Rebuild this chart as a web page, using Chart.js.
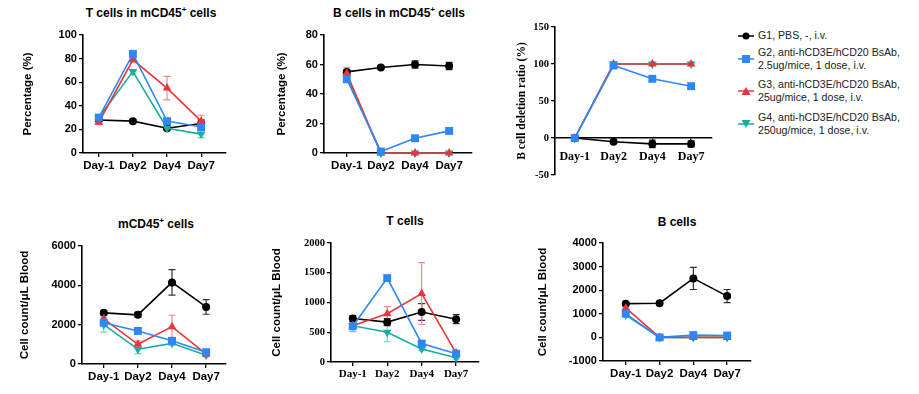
<!DOCTYPE html>
<html>
<head>
<meta charset="utf-8">
<script src="https://cdn.jsdelivr.net/npm/chart.js@4"></script>
<style>
body { margin: 0; background: #fff; width: 919px; height: 394px; position: relative; overflow: hidden; font-family: Arial, "Liberation Sans", sans-serif; }
canvas { position: absolute; }
.ttl { position: absolute; width: 200px; text-align: center; font-weight: bold; font-size: 12px; line-height: 16px; color: #000; }
.ttl sup { font-size: 8px; line-height: 0; }
.item { position: absolute; left: 737px; padding-left: 21px; font-size: 10.6px; line-height: 13px; color: #222; white-space: nowrap; }
.item svg { position: absolute; left: 0; top: 50%; margin-top: -6px; }
</style>
</head>
<body>
<div class="ttl" style="left:51px;top:5px">T cells in mCD45<sup>+</sup> cells</div>
<div class="ttl" style="left:299px;top:5px">B cells in mCD45<sup>+</sup> cells</div>
<div class="ttl" style="left:56px;top:216px">mCD45<sup>+</sup> cells</div>
<div class="ttl" style="left:305px;top:213px">T cells</div>
<div class="ttl" style="left:577px;top:214px">B cells</div>

<canvas id="p1"></canvas>
<canvas id="p2"></canvas>
<canvas id="p3"></canvas>
<canvas id="p4"></canvas>
<canvas id="p5"></canvas>
<canvas id="p6"></canvas>

<div class="item" style="top:29px">
  <svg width="18" height="12"><line x1="1" y1="6" x2="17" y2="6" stroke="#000" stroke-width="1.5"/><circle cx="9" cy="6" r="3.5" fill="#000"/></svg>
  G1, PBS, -, i.v.</div>
<div class="item" style="top:46px">
  <svg width="18" height="12"><line x1="1" y1="6" x2="17" y2="6" stroke="#2f86f6" stroke-width="1.5"/><rect x="5" y="2" width="8" height="8" fill="#2f86f6"/></svg>
  G2, anti-hCD3E/hCD20 BsAb,<br>2.5ug/mice, 1 dose, i.v.</div>
<div class="item" style="top:78px">
  <svg width="18" height="12"><line x1="1" y1="6" x2="17" y2="6" stroke="#e8353b" stroke-width="1.5"/><polygon points="9,2 13.5,10 4.5,10" fill="#e8353b"/></svg>
  G3, anti-hCD3E/hCD20 BsAb,<br>25ug/mice, 1 dose, i.v.</div>
<div class="item" style="top:111px">
  <svg width="18" height="12"><line x1="1" y1="6" x2="17" y2="6" stroke="#17ae9e" stroke-width="1.5"/><polygon points="9,10 13.5,2 4.5,2" fill="#17ae9e"/></svg>
  G4, anti-hCD3E/hCD20 BsAb,<br>250ug/mice, 1 dose, i.v.</div>

<script>
// categories and groups
const days = ['Day-1', 'Day2', 'Day4', 'Day7'];
const groups = ['G1', 'G2', 'G3', 'G4'];

// rows = G1..G4, columns = days; *Err = half height of the error bar
const tPctMean = [[28, 27, 21, 25], [30, 84, 27, 22], [26, 79, 55, 27], [30, 69, 21, 16]];
const tPctErr  = [[1, 1, 1, 3], [1.5, 1.5, 1.5, 2], [1.5, 1.5, 10, 5], [1.5, 1.5, 1.5, 3]];

const bPctMean = [[55, 58, 60, 59], [50, 1, 10, 15], [54, 0, 0, 0], [52, 0, 0, 0]];
const bPctErr  = [[1.5, 1, 2.5, 2.5], [2, 0.5, 1, 2], [4, 0, 0, 0], [1, 0, 0, 0]];

const ratioMean = [[0, -5, -8, -8], [0, 98, 80, 70], [0, 100, 100, 100], [0, 100, 100, 100]];
const ratioErr  = [[3, 2, 5, 4], [2, 2, 3, 4], [0, 1, 2, 2], [0, 1, 2, 2]];

const cdMean = [[2600, 2500, 4150, 2900], [2100, 1680, 1180, 600], [2300, 1000, 1900, 500], [2000, 750, 1050, 450]];
const cdErr  = [[100, 120, 650, 370], [150, 80, 120, 100], [200, 180, 580, 80], [380, 220, 100, 80]];

const tCntMean = [[730, 670, 840, 720], [600, 1410, 310, 140], [610, 810, 1150, 150], [610, 500, 220, 70]];
const tCntErr  = [[50, 60, 140, 75], [90, 30, 40, 30], [40, 120, 520, 30], [30, 160, 30, 20]];

const bCntMean = [[1430, 1450, 2500, 1750], [1000, 0, 100, 80], [1250, 0, 0, 0], [950, 0, 0, 0]];
const bCntErr  = [[60, 60, 470, 280], [80, 20, 50, 40], [60, 0, 0, 0], [60, 0, 0, 0]];

// styles per group
const colors = ['#000000', '#2f86f6', '#e8353b', '#17ae9e'];
const errColors = ['#333333', '#86b8f8', '#f08a8d', '#76d1c7'];
const pointStyles = ['circle', 'rect', 'triangle', 'triangle'];
const rotations = [0, 0, 0, 180];
const radii = [4, 5.6, 5, 5];
const drawOrder = [3, 0, 1, 2];

const sans = 'Arial, "Liberation Sans", sans-serif';
const serif = '"Times New Roman", "Liberation Serif", serif';

const errorBars = {
  id: 'errorBars',
  beforeDatasetsDraw(chart) {
    const ctx = chart.ctx, xs = chart.scales.x, ys = chart.scales.y;
    ctx.save();
    chart.data.datasets.forEach(ds => {
      ds.errors.forEach((e, i) => {
        if (!e) return;
        const v = ds.data[i].y;
        const x = xs.getPixelForValue(i);
        const top = ys.getPixelForValue(v + e), bot = ys.getPixelForValue(v - e);
        ctx.strokeStyle = ds.errColor;
        ctx.lineWidth = 1.2;
        ctx.beginPath();
        ctx.moveTo(x, top); ctx.lineTo(x, bot);
        ctx.moveTo(x - 3.5, top); ctx.lineTo(x + 3.5, top);
        ctx.moveTo(x - 3.5, bot); ctx.lineTo(x + 3.5, bot);
        ctx.stroke();
      });
    });
    ctx.restore();
  }
};

function panel(id, p) {
  const titleSize = 11.5;
  const padTop = 12, padRight = 24;
  const hx = p.zeroAxis ? 0 : 26, padBottom = p.zeroAxis ? 10 : 0;
  const wy = p.left - p.labelX + titleSize * 0.6;
  const step = (p.lastX - p.firstX) / 3;
  const c = document.getElementById(id);
  c.width = wy + (p.right - p.left) + padRight;
  c.height = padTop + (p.bottom - p.top) + hx + padBottom;
  c.style.left = (p.left - wy) + 'px';
  c.style.top = (p.top - padTop) + 'px';

  const axisGrid = { drawOnChartArea: false, drawTicks: true, tickLength: 4, color: '#000', lineWidth: 1.3 };
  const axisBorder = { display: true, color: '#000', width: 1.6 };

  new Chart(c, {
    type: 'line',
    data: {
      datasets: p.means.map((m, g) => ({
        label: groups[g],
        data: m.map((v, i) => ({ x: i, y: v })),
        errors: p.errs[g],
        errColor: errColors[g],
        borderColor: colors[g],
        backgroundColor: colors[g],
        borderWidth: 1.6,
        pointStyle: pointStyles[g],
        pointRotation: rotations[g],
        pointRadius: radii[g],
        pointBorderWidth: 0,
        order: drawOrder[g],
        clip: false
      }))
    },
    options: {
      responsive: false,
      animation: false,
      layout: { padding: { top: padTop, right: padRight, bottom: padBottom, left: 0 } },
      plugins: { legend: { display: false }, tooltip: { enabled: false } },
      scales: {
        x: {
          type: 'linear',
          position: p.zeroAxis ? { y: 0 } : 'bottom',
          min: -(p.firstX - p.left) / step,
          max: 3 + (p.right - p.lastX) / step,
          afterBuildTicks: s => { s.ticks = days.map((d, i) => ({ value: i })); },
          afterFit: s => { if (!p.zeroAxis) s.height = hx; },
          ticks: {
            callback: v => days[v],
            font: { family: p.serif ? serif : sans, size: p.xSize, weight: 'bold' },
            color: '#000', padding: p.zeroAxis ? 8 : 2, maxRotation: 0, autoSkip: false
          },
          grid: axisGrid,
          border: axisBorder
        },
        y: {
          min: p.yMin, max: p.yMax,
          afterFit: s => { s.width = wy; },
          ticks: {
            stepSize: p.yStep,
            callback: v => v,
            font: { family: p.serif ? serif : sans, size: p.ySize, weight: 'bold' },
            color: '#000', padding: 2
          },
          grid: axisGrid,
          border: axisBorder,
          title: {
            display: true, text: p.yTitle, color: '#000', padding: 0,
            font: { family: p.serifTitle ? serif : sans, size: titleSize, weight: 'bold' }
          }
        }
      }
    },
    plugins: [errorBars]
  });
}

panel('p1', { left: 83, right: 227, top: 35, bottom: 153, firstX: 99, lastX: 202, labelX: 28,
  yMin: 0, yMax: 100, yStep: 20, yTitle: 'Percentage (%)', xSize: 11.5, ySize: 11,
  means: tPctMean, errs: tPctErr });
panel('p2', { left: 324, right: 473, top: 35, bottom: 153, firstX: 347, lastX: 450, labelX: 282,
  yMin: 0, yMax: 80, yStep: 20, yTitle: 'Percentage (%)', xSize: 11.5, ySize: 11,
  means: bPctMean, errs: bPctErr });
panel('p3', { left: 555, right: 713, top: 27, bottom: 175, firstX: 575, lastX: 692, labelX: 522,
  yMin: -50, yMax: 150, yStep: 50, yTitle: 'B cell deletion ratio (%)', xSize: 12, ySize: 10.5,
  serif: true, serifTitle: true, zeroAxis: true,
  means: ratioMean, errs: ratioErr });
panel('p4', { left: 82, right: 227, top: 246, bottom: 364, firstX: 104, lastX: 207, labelX: 25,
  yMin: 0, yMax: 6000, yStep: 2000, yTitle: 'Cell count/μL Blood', xSize: 11.5, ySize: 11,
  means: cdMean, errs: cdErr });
panel('p5', { left: 331, right: 480, top: 243, bottom: 362, firstX: 353, lastX: 457, labelX: 277,
  yMin: 0, yMax: 2000, yStep: 500, yTitle: 'Cell count/μL Blood', xSize: 11, ySize: 10.5,
  serif: true,
  means: tCntMean, errs: tCntErr });
panel('p6', { left: 603, right: 752, top: 243, bottom: 361, firstX: 626, lastX: 728, labelX: 543,
  yMin: -1000, yMax: 4000, yStep: 1000, yTitle: 'Cell count/μL Blood', xSize: 11.5, ySize: 11,
  means: bCntMean, errs: bCntErr });
</script>
</body>
</html>
